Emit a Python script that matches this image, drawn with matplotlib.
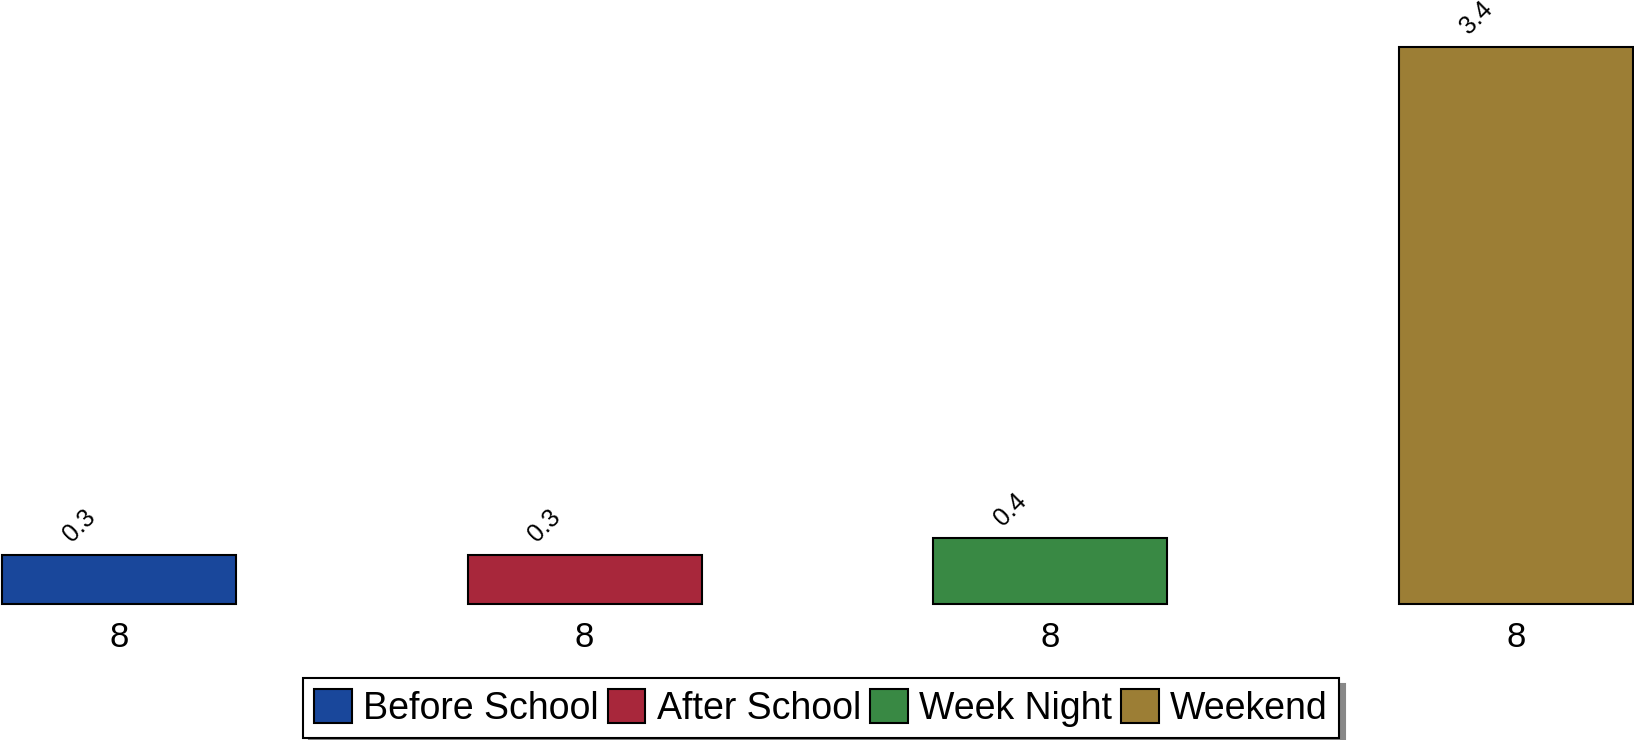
import matplotlib
matplotlib.use('Agg')
import matplotlib.pyplot as plt

plt.rcParams['font.family'] = ['Liberation Sans', 'DejaVu Sans']

# data
categories = ['Before School', 'After School', 'Week Night', 'Weekend']
values = [0.3, 0.3, 0.4, 3.4]
group_labels = ['8', '8', '8', '8']
colors = ['#19479b', '#a8273b', '#398944', '#9c7e35']

fig = plt.figure(figsize = (16.34, 7.40), dpi = 100)
ax = fig.add_axes([0, 136 / 740, 1, 604 / 740])

x = list(range(len(values)))
bars = ax.bar(x, values, width = 0.502, color = colors, edgecolor = 'black',
              linewidth = 1.5, label = categories)
for b in bars:
    b.set_clip_on(False)

# value labels, rotated
for xi, v in zip(x, values):
    ax.annotate(f'{v:.1f}', xy = (xi, v), xytext = (-40, 29), textcoords = 'offset pixels',
                rotation = 45, ha = 'center', va = 'center', fontsize = 18,
                rotation_mode = 'anchor')

ax.set_xlim(-0.2555, -0.2555 + 1634 / 465.7)
ax.set_ylim(0, 604 / 163.8)
ax.set_xticks(x)
ax.set_xticklabels(group_labels, fontsize = 25)
ax.tick_params(axis = 'x', length = 0, pad = 12)
ax.set_yticks([])
for s in ax.spines.values():
    s.set_visible(False)

leg = fig.legend(handles = bars, labels = categories, loc = 'lower center',
                 bbox_to_anchor = (0.5025, 0.0), ncol = 4, fontsize = 27,
                 frameon = True, fancybox = False, edgecolor = 'black',
                 handlelength = 1.0, handleheight = 1.0, handletextpad = 0.3,
                 columnspacing = 0.25, borderpad = 0.3, borderaxespad = 0.05,
                 shadow = {'color': '#888888', 'alpha': 1.0, 'ox': 4, 'oy': -4})
leg.get_frame().set_linewidth(1.5)

fig.savefig('out.png', dpi = 100)
